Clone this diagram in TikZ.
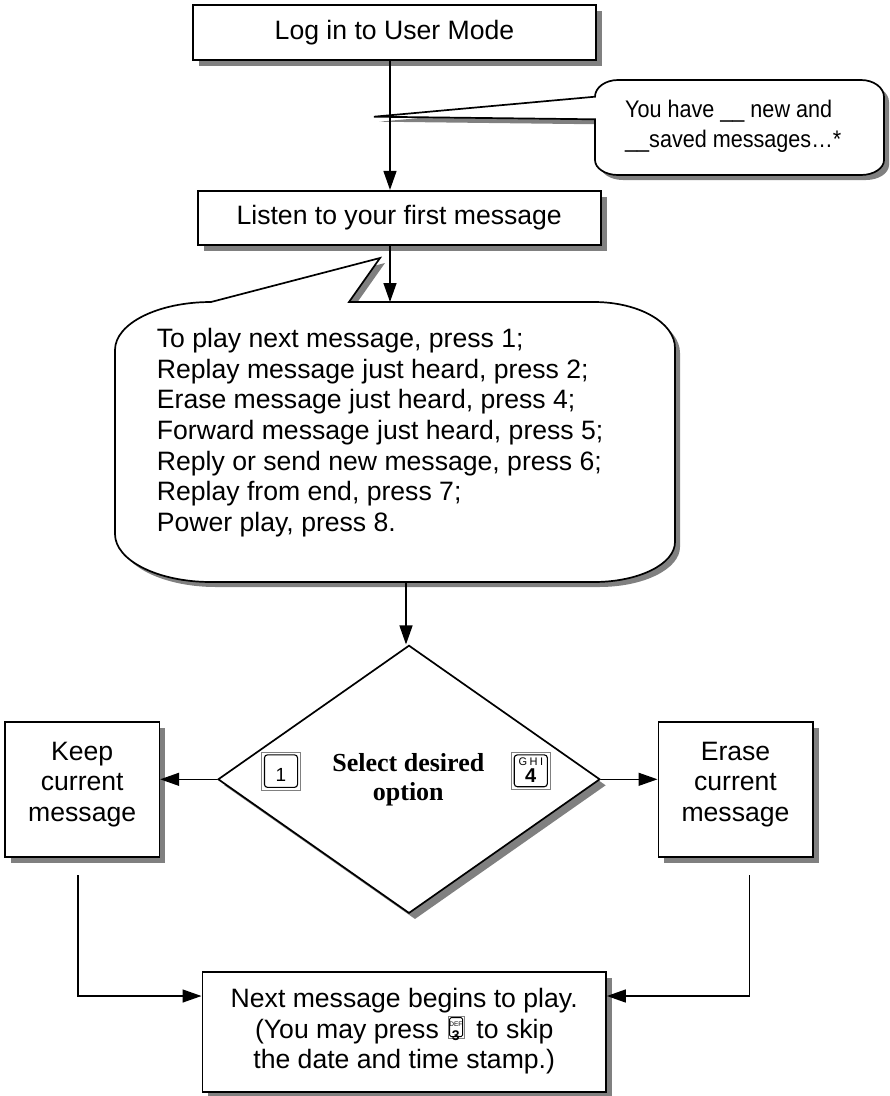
\documentclass[tikz,border=0pt]{standalone}
\usepackage{fontspec}
\setmainfont{Liberation Sans}
\newfontfamily\diaserif{Liberation Serif}
\newfontfamily\narrowsans[FakeStretch=0.9]{Liberation Sans}
\usetikzlibrary{arrows.meta,shapes.geometric,shadows}
\definecolor{shadowgray}{HTML}{808080}
\newcommand{\mainsize}{\fontsize{26.6}{30.6}\selectfont}
\newcommand{\calloutsize}{\narrowsans\fontsize{24}{30}\selectfont}
\newcommand{\diasize}{\diaserif\bfseries\fontsize{26}{29}\selectfont}
\newcommand{\defkey}{\tikz[x=1pt,y=1pt,baseline=0pt]{%
  \node[draw=gray,line width=0.6pt,minimum width=16pt,minimum height=22pt,inner sep=0pt,anchor=south west] (keythree) at (0,0) {};
  \draw[line width=0.9pt,rounded corners=1.5pt] ([shift={(1.8,-1.8)}]keythree.north west) rectangle ([shift={(-1.8,1.8)}]keythree.south east);
  \node[inner sep=0pt,font=\fontsize{6.5}{6.5}\selectfont] (keythreeabc) at (8,16.8) {DEF};
  \node[inner sep=0pt,font=\bfseries\fontsize{14}{14}\selectfont] (keythreenum) at (8,7.6) {3};}}
\tikzset{
  flowbox/.style={draw,line width=1.7pt,fill=white,inner sep=0pt,
    drop shadow={shadow xshift=6pt,shadow yshift=-6pt,fill=shadowgray,opacity=1}},
  conn/.style={line width=1.4pt,-{Triangle[length=19pt,width=13pt]}},
  plain/.style={inner sep=0pt},
  calloutline/.style={line width=1.7pt,fill=white},
  keyouter/.style={draw=gray,line width=0.8pt,inner sep=0pt,fill=white},
  keyinner/.style={line width=1.1pt,rounded corners=3pt}
}
\begin{document}
\begin{tikzpicture}[x=1pt,y=-1pt]
\useasboundingbox (0,0) rectangle (890,1096);
\coordinate (ax) at (390,0);

% Log in box
\node[flowbox,minimum width=403.6pt,minimum height=55pt,font=\mainsize] (login) at (394.5,32.5) {Log in to User Mode};

% small callout
\begin{scope}[shift={(5,5)}]
\fill[shadowgray] (595,96.7) -- (374,116.7) -- (595,119.3) -- (595,160)
  .. controls (595,168.3) and (605.3,175) .. (618,175) -- (861,175)
  .. controls (873.7,175) and (884,168.3) .. (884,160) -- (884,97)
  .. controls (884,87.6) and (873.7,80) .. (861,80) -- (618,80)
  .. controls (605.3,80) and (595,87.5) .. (595,96.7) -- cycle;
\end{scope}
\draw[calloutline] (595,96.7) -- (374,116.7) -- (595,119.3) -- (595,160)
  .. controls (595,168.3) and (605.3,175) .. (618,175) -- (861,175)
  .. controls (873.7,175) and (884,168.3) .. (884,160) -- (884,97)
  .. controls (884,87.6) and (873.7,80) .. (861,80) -- (618,80)
  .. controls (605.3,80) and (595,87.5) .. (595,96.7) -- cycle;
\node[plain,anchor=north west,align=left,font=\calloutsize] (savedmsg) at (625,100)
  {You have \_\_ new and\\\_\_saved messages…*};

% Listen box
\node[flowbox,minimum width=403pt,minimum height=54.3pt,font=\mainsize] (listen) at (399.2,217.9) {Listen to your first message};
\draw[conn] (login.south -| ax) -- (listen.north -| ax);

% big callout
\begin{scope}[shift={(5,5)}]
\fill[shadowgray] (211,302) -- (380,258) -- (349,302) -- (594,302)
  .. controls (638.7,302) and (675,322.6) .. (675,348) -- (675,542)
  .. controls (675,564.1) and (638.7,582) .. (594,582) -- (211,582)
  .. controls (158,582) and (115,560.5) .. (115,534) -- (115,350)
  .. controls (115,323.5) and (158,302) .. (211,302) -- cycle;
\end{scope}
\draw[calloutline] (211,302) -- (380,258) -- (349,302) -- (594,302)
  .. controls (638.7,302) and (675,322.6) .. (675,348) -- (675,542)
  .. controls (675,564.1) and (638.7,582) .. (594,582) -- (211,582)
  .. controls (158,582) and (115,560.5) .. (115,534) -- (115,350)
  .. controls (115,323.5) and (158,302) .. (211,302) -- cycle;
\node[plain,anchor=north west,align=left,font=\mainsize] (options) at (156.7,328.3)
  {To play next message, press 1;\\
   Replay message just heard, press 2;\\
   Erase message just heard, press 4;\\
   Forward message just heard, press 5;\\
   Reply or send new message, press 6;\\
   Replay from end, press 7;\\
   Power play, press 8.};
\coordinate (optop) at (390,302);
\draw[conn] (listen.south -| ax) -- (optop);

% decision diamond
\node[diamond,flowbox,minimum width=382pt,minimum height=268pt] (choice) at (409,779.3) {};
\coordinate (opbot) at (406,582);
\draw[conn] (opbot) -- (opbot |- choice.north);
\node[plain,anchor=north,align=center,font=\diasize] (choicetxt) at (408.3,753.3) {Select desired\\option};

% key 1
\node[keyouter,minimum width=38.3pt,minimum height=37.7pt] (keyone) at (281,771.1) {};
\draw[keyinner] ([shift={(3,3)}]keyone.north west) rectangle ([shift={(-3,-3)}]keyone.south east);
\node[plain,font=\fontsize{19}{19}\selectfont] (keyonetxt) at (281,775) {1};

% key GHI 4
\node[keyouter,minimum width=38.3pt,minimum height=37pt] (keyfour) at (530.8,770.8) {};
\draw[keyinner] ([shift={(3,3)}]keyfour.north west) rectangle ([shift={(-3,-3)}]keyfour.south east);
\node[plain,font=\fontsize{11}{11}\selectfont] (keyfourabc) at (530.8,761.7) {G\hspace{2.5pt}H\hspace{2.5pt}I};
\node[plain,font=\bfseries\fontsize{20}{20}\selectfont] (keyfournum) at (530.8,776) {4};

% side boxes
\node[flowbox,minimum width=154.3pt,minimum height=134.4pt] (keep) at (82.2,789.5) {};
\node[plain,anchor=north,align=center,font=\mainsize] (keeptxt) at (82.2,741.7) {Keep\\current\\message};
\node[flowbox,minimum width=154.3pt,minimum height=134.4pt] (erase) at (735.5,789.5) {};
\node[plain,anchor=north,align=center,font=\mainsize] (erasetxt) at (735.5,741.7) {Erase\\current\\message};
\draw[conn] (choice.west) -- (choice.west -| keep.east);
\draw[conn] (choice.east) -- (choice.east -| erase.west);

% bottom box
\node[flowbox,minimum width=403.7pt,minimum height=120pt] (next) at (404.2,1031.7) {};
\node[plain,anchor=north,align=center,font=\mainsize] (nexttxt) at (404.2,988.3)
  {Next message begins to play.\\(You may press\hspace{9pt}\defkey\hspace{12pt}to skip\\the date and time stamp.)};

\coordinate (keepline) at (78,875);
\coordinate (eraseline) at (749.5,875);
\coordinate (joiny) at (0,996);
\draw[conn] (keepline) |- (next.west |- joiny);
\draw[conn] (eraseline) |- (next.east |- joiny);
\end{tikzpicture}
\end{document}
